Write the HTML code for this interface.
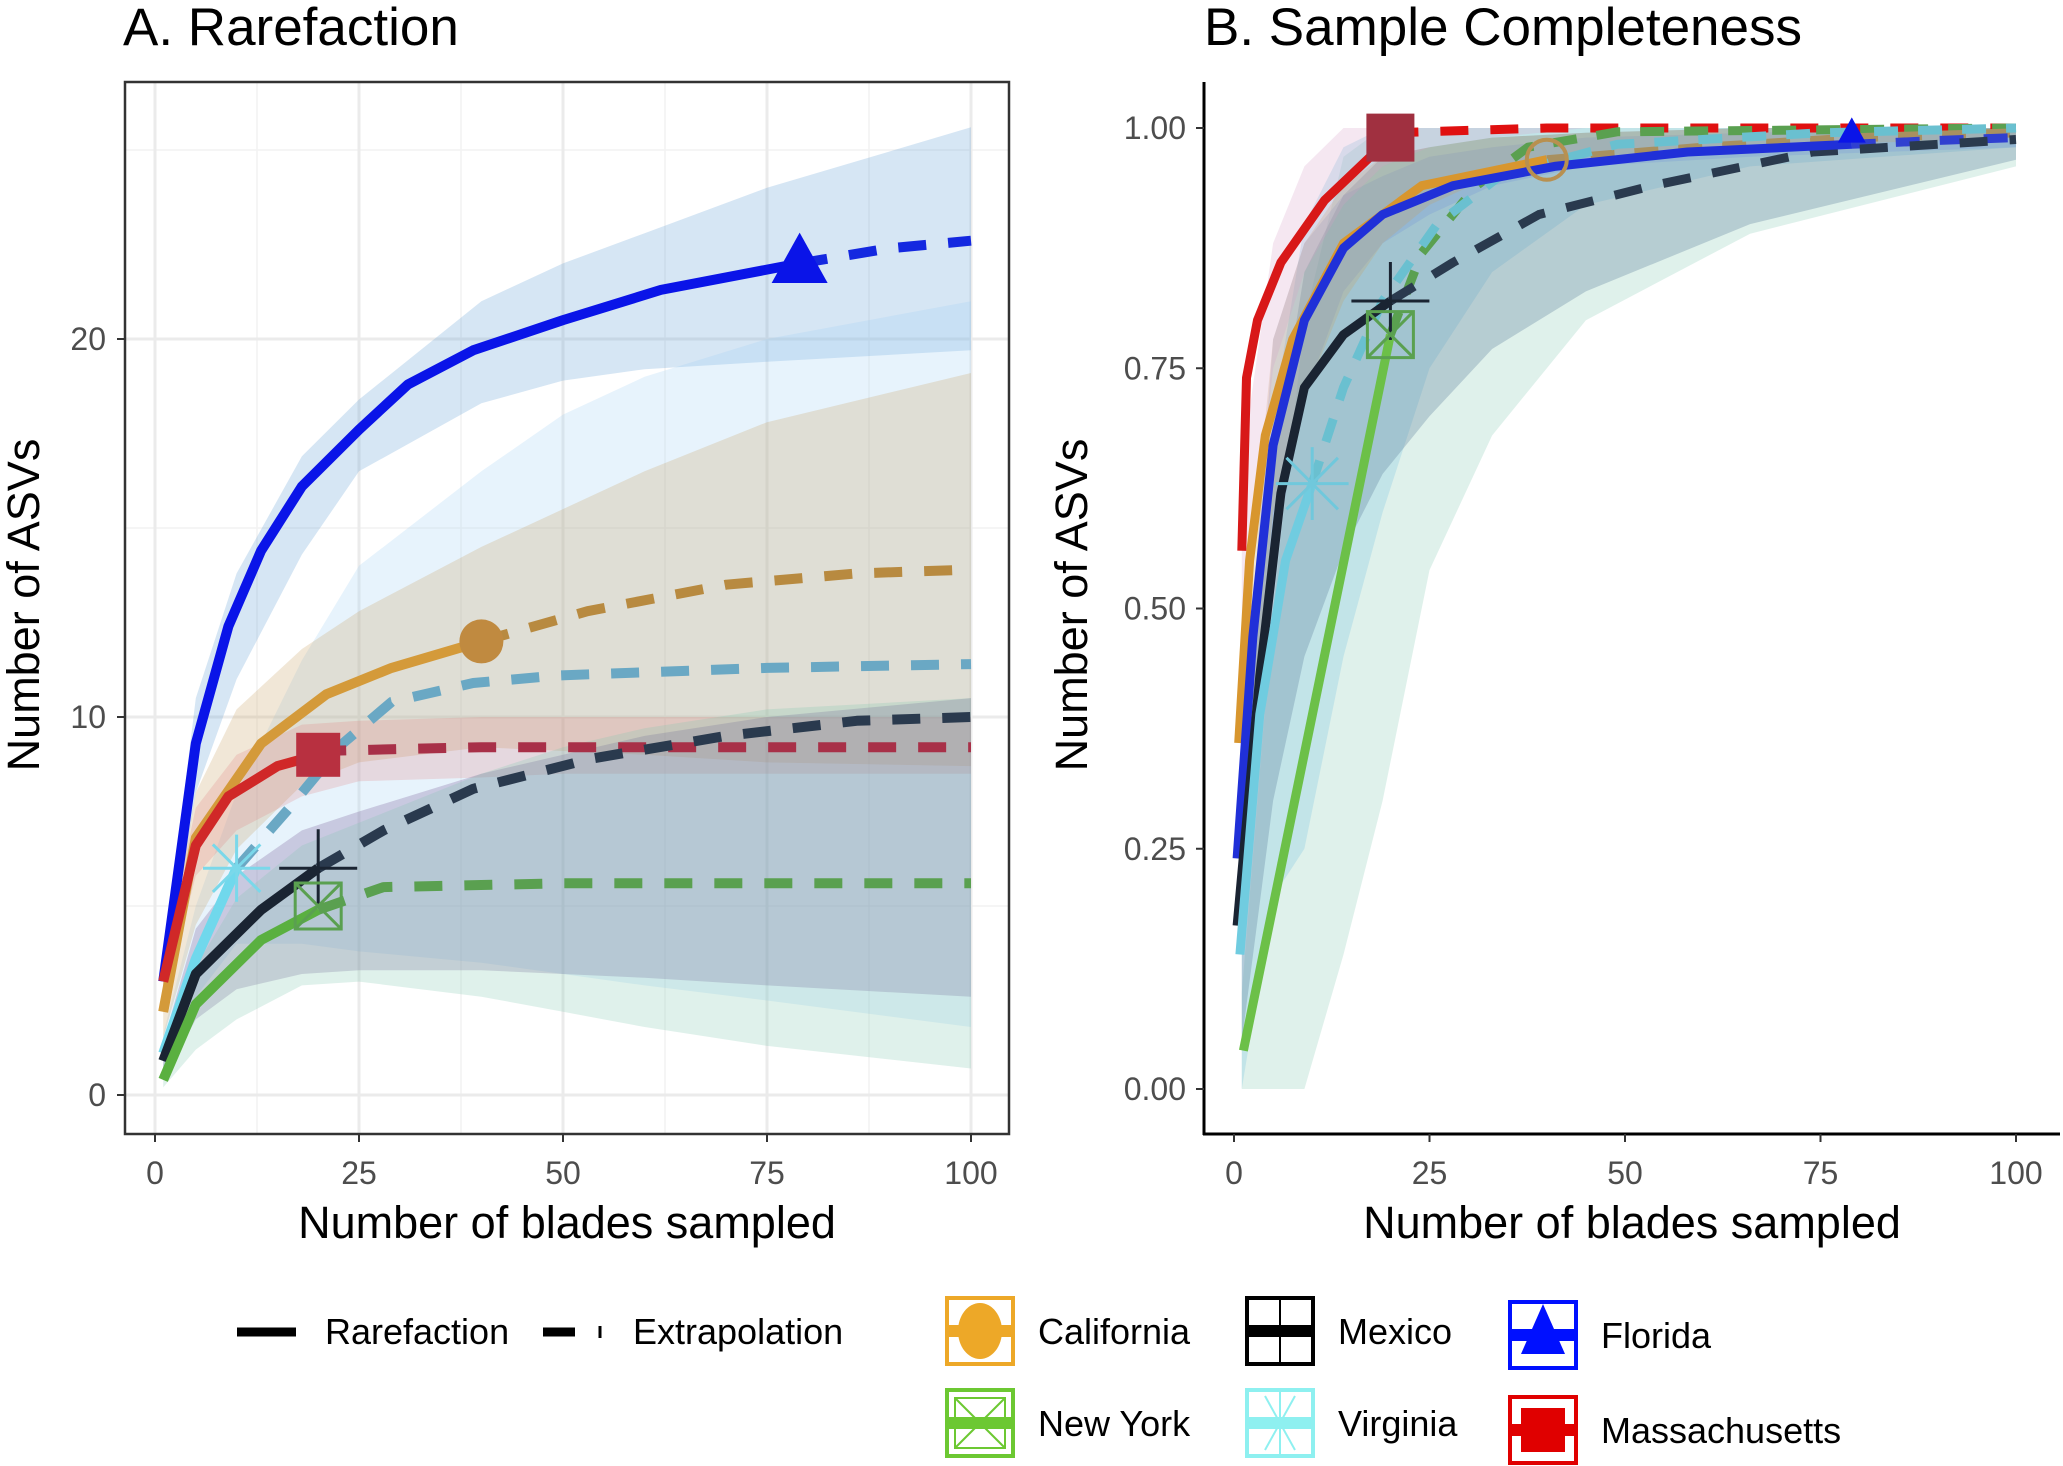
<!DOCTYPE html>
<html><head><meta charset="utf-8"><style>
body{margin:0;background:#fff;}
svg{display:block;font-family:"Liberation Sans",sans-serif;}
</style></head><body>
<svg id="c" width="2063" height="1466" viewBox="0 0 2063 1466"></svg>
<script>
// ---------- Panel A data ----------
const seriesNames=["Florida","California","Massachusetts","Virginia","Mexico","New York"];
const aFlRareX=[1,5,9,13,18,25,31,39,50,62,79], aFlRareY=[3.0,9.3,12.4,14.4,16.1,17.6,18.8,19.7,20.5,21.3,22.0];
const aFlExtX=[79,90,100], aFlExtY=[22.0,22.4,22.6];
const aCaRareX=[1,5,13,21,29,40], aCaRareY=[2.2,6.8,9.3,10.6,11.3,12.0];
const aCaExtX=[40,53,70,86,100], aCaExtY=[12.0,12.8,13.5,13.8,13.9];
const aMaRareX=[1,5,9,15,20], aMaRareY=[3.0,6.6,7.9,8.7,9.0];
const aMaExtX=[20,40,100], aMaExtY=[9.1,9.2,9.2];
const aVaRareX=[1,5,10], aVaRareY=[1.1,3.6,6.0];
const aVaExtX=[10,16.5,23,29,39,49.5,75,100], aVaExtY=[6.0,7.6,9.3,10.4,10.9,11.1,11.3,11.4];
const aMxRareX=[1,5,13,20], aMxRareY=[0.9,3.2,4.9,6.0];
const aMxExtX=[20,28,39,53.5,70,86,100], aMxExtY=[6.0,7.0,8.1,8.9,9.5,9.9,10.0];
const aNyRareX=[1,5,13,20], aNyRareY=[0.4,2.4,4.1,4.9];
const aNyExtX=[20,28,50,100], aNyExtY=[4.9,5.5,5.6,5.6];
// ribbons panel A
const aRibX=[1,5,10,18,25,40,50,60,75,100];
const aFlLo=[2.6,8.0,11.0,14.3,16.5,18.3,18.9,19.2,19.4,19.7];
const aFlHi=[3.4,10.5,13.8,16.9,18.4,21.0,22.0,22.8,24.0,25.6];
const aCaLo=[1.5,4.5,6.5,8.2,8.8,9.2,9.1,9.0,8.8,8.7];
const aCaHi=[3.0,8.0,10.2,11.8,12.8,14.5,15.5,16.5,17.8,19.1];
const aMaLo=[2.4,5.8,7.0,7.9,8.3,8.4,8.5,8.5,8.5,8.5];
const aMaHi=[3.6,7.6,9.0,9.8,9.9,10.0,10.0,10.0,10.0,10.0];
const aVaLo=[0.6,2.6,4.0,4.0,3.8,3.5,3.2,2.9,2.5,1.8];
const aVaHi=[1.6,5.0,8.0,11.5,14.0,16.5,18.0,19.0,20.0,21.0];
const aMxLo=[0.4,2.0,2.8,3.2,3.3,3.3,3.2,3.1,2.9,2.6];
const aMxHi=[1.4,4.4,5.8,7.0,7.5,8.5,9.0,9.5,10.0,10.5];
const aNyLo=[0.2,1.2,2.0,2.9,3.0,2.6,2.2,1.8,1.3,0.7];
const aNyHi=[0.8,3.4,5.2,6.6,7.2,8.5,9.2,9.7,10.2,10.5];
// ---------- Panel B data ----------
const bMaRareX=[1,1.6,3,6,11.6,20], bMaRareY=[0.56,0.74,0.80,0.86,0.925,0.99];
const bMaExtX=[20,40,100], bMaExtY=[0.995,1.0,1.0];
const bCaRareX=[0.6,2,4,7.5,14,24,40], bCaRareY=[0.36,0.55,0.68,0.78,0.88,0.94,0.967];
const bCaExtX=[40,60,80,100], bCaExtY=[0.967,0.98,0.99,0.995];
const bFlRareX=[0.4,2.4,5,9,14,19,28,41,58,79], bFlRareY=[0.24,0.47,0.67,0.80,0.875,0.91,0.94,0.96,0.975,0.983];
const bFlExtX=[79,90,100], bFlExtY=[0.983,0.987,0.99];
const bMxRareX=[0.4,3.3,6,9,14,20], bMxRareY=[0.17,0.43,0.62,0.73,0.785,0.82];
const bMxExtX=[20,28,39,53.5,74,100], bMxExtY=[0.82,0.86,0.91,0.94,0.975,0.988];
const bVaRareX=[0.75,3.3,6.6,10], bVaRareY=[0.14,0.39,0.55,0.63];
const bVaExtX=[10,14,19,26,34,49,75,100], bVaExtY=[0.63,0.73,0.82,0.90,0.95,0.983,0.995,1.0];
const bNyRareX=[1.2,20], bNyRareY=[0.04,0.785];
const bNyExtX=[20,24,31,37.6,49,100], bNyExtY=[0.785,0.87,0.94,0.98,0.996,1.0];
const bRibX=[1,5,9,14,19,25,33,45,66,100];
const bNyLo=[0,0,0,0.14,0.30,0.54,0.68,0.80,0.89,0.96];
const bNyHi=[0.1,0.5,0.8,0.97,1.0,1.0,1.0,1.0,1.0,1.0];
const bMxLo=[0.05,0.3,0.45,0.56,0.64,0.70,0.77,0.83,0.9,0.967];
const bMxHi=[0.3,0.65,0.85,0.93,0.97,0.98,0.99,0.995,1.0,1.0];
const bVaLo=[0,0.2,0.25,0.45,0.6,0.75,0.85,0.92,0.96,0.98];
const bVaHi=[0.3,0.7,0.9,0.98,1.0,1.0,1.0,1.0,1.0,1.0];
const bMaLo=[0.45,0.75,0.85,0.92,0.96,0.98,0.99,1.0,1.0,1.0];
const bMaHi=[0.65,0.88,0.96,1.0,1.0,1.0,1.0,1.0,1.0,1.0];
const bCaLo=[0.25,0.6,0.72,0.82,0.88,0.92,0.95,0.97,0.98,0.99];
const bCaHi=[0.45,0.78,0.88,0.94,0.97,0.98,0.99,0.995,1.0,1.0];
const bFlLo=[0.15,0.55,0.72,0.83,0.88,0.91,0.94,0.96,0.97,0.98];
const bFlHi=[0.35,0.78,0.88,0.93,0.95,0.97,0.98,0.99,0.995,1.0];
const aXTicks=[0,25,50,75,100], aYTicks=[0,10,20];
const bXTicks=[0,25,50,75,100], bYTicks=[0,0.25,0.5,0.75,1.0];
const bYLabels=["0.00","0.25","0.50","0.75","1.00"];

const NS="http://www.w3.org/2000/svg", svg=document.getElementById('c');
function mk(tag,attrs,parent,text){const e=document.createElementNS(NS,tag);for(const k in attrs)e.setAttribute(k,attrs[k]);if(text!==undefined)e.textContent=text;(parent||svg).appendChild(e);return e;}
const xA=v=>155+v*8.16, yA=v=>1095-v*37.8;
const xB=v=>1234+v*7.82, yB=v=>1089-v*961;
function pts(xs,ys,fx,fy){return xs.map((x,i)=>fx(x).toFixed(1)+','+fy(ys[i]).toFixed(1)).join(' ');}
function ribbon(g,xs,lo,hi,fx,fy,col,op,name){
  const p=mk('polygon',{points:pts(xs,hi,fx,fy)+' '+pts(xs.slice().reverse(),lo.slice().reverse(),fx,fy),fill:col,'fill-opacity':op},g);
  
  
}
function line(g,xs,ys,fx,fy,col,w,dash,name){
  const a={points:pts(xs,ys,fx,fy),fill:'none',stroke:col,'stroke-width':w,'stroke-linejoin':'round'};
  if(dash)a['stroke-dasharray']=dash;
  const p=mk('polyline',a,g);
  
  
}
function marker(g,type,cx,cy,col,s,name){
  const m=mk('g',{},g);
  
  
  if(type==='tri')mk('polygon',{points:`${cx},${cy-s*1.1} ${cx-s},${cy+s*0.7} ${cx+s},${cy+s*0.7}`,fill:col},m);
  if(type==='circ')mk('circle',{cx:cx,cy:cy,r:s,fill:col},m);
  if(type==='sq')mk('rect',{x:cx-s,y:cy-s,width:2*s,height:2*s,fill:col},m);
  if(type==='plus'){mk('line',{x1:cx-s*1.5,y1:cy,x2:cx+s*1.5,y2:cy,stroke:col,'stroke-width':3},m);mk('line',{x1:cx,y1:cy-s*1.5,x2:cx,y2:cy+s*1.5,stroke:col,'stroke-width':3},m);}
  if(type==='ast'){for(const a of [0,45,90,135]){const r=a*Math.PI/180;mk('line',{x1:cx-Math.cos(r)*s*1.4,y1:cy-Math.sin(r)*s*1.4,x2:cx+Math.cos(r)*s*1.4,y2:cy+Math.sin(r)*s*1.4,stroke:col,'stroke-width':3},m);}}
  if(type==='boxx'){mk('rect',{x:cx-s,y:cy-s,width:2*s,height:2*s,fill:'none',stroke:col,'stroke-width':3},m);mk('line',{x1:cx-s,y1:cy-s,x2:cx+s,y2:cy+s,stroke:col,'stroke-width':3},m);mk('line',{x1:cx+s,y1:cy-s,x2:cx-s,y2:cy+s,stroke:col,'stroke-width':3},m);}
}
const TXT='#4d4d4d';
// ---------- Panel A ----------
const gA=mk('g',{});
mk('text',{x:123,y:45,'font-size':53,fill:'#000'},gA,'A. Rarefaction');
for(let v=12.5;v<100;v+=25)mk('line',{x1:xA(v),x2:xA(v),y1:82,y2:1134,stroke:'#f2f2f2','stroke-width':1.5},gA);
for(const v of [5,15,25])mk('line',{x1:125,x2:1009,y1:yA(v),y2:yA(v),stroke:'#f2f2f2','stroke-width':1.5},gA);
aXTicks.forEach(v=>{mk('line',{x1:xA(v),x2:xA(v),y1:82,y2:1134,stroke:'#ebebeb','stroke-width':3},gA);
  mk('line',{x1:xA(v),x2:xA(v),y1:1134,y2:1142,stroke:'#333','stroke-width':2},gA);
  const t=mk('text',{x:xA(v),y:1184,'font-size':32,fill:TXT,'text-anchor':'middle'},gA,v);});
aYTicks.forEach(v=>{mk('line',{x1:125,x2:1009,y1:yA(v),y2:yA(v),stroke:'#ebebeb','stroke-width':3},gA);
  mk('line',{x1:117,x2:125,y1:yA(v),y2:yA(v),stroke:'#333','stroke-width':2},gA);
  const t=mk('text',{x:106,y:yA(v)+11,'font-size':32,fill:TXT,'text-anchor':'end'},gA,v);});
ribbon(gA,aRibX,aFlLo,aFlHi,xA,yA,'#5b9bd5',0.25,'ribbon-florida');
ribbon(gA,aRibX,aVaLo,aVaHi,xA,yA,'#9fd0f5',0.25,'ribbon-virginia');
ribbon(gA,aRibX,aCaLo,aCaHi,xA,yA,'#c9a060',0.25,'ribbon-california');
ribbon(gA,aRibX,aMaLo,aMaHi,xA,yA,'#e07070',0.2,'ribbon-massachusetts');
ribbon(gA,aRibX,aMxLo,aMxHi,xA,yA,'#6a4a8a',0.25,'ribbon-mexico');
ribbon(gA,aRibX,aNyLo,aNyHi,xA,yA,'#80c8b0',0.25,'ribbon-new-york');
line(gA,aFlRareX,aFlRareY,xA,yA,'#0a14e8',10,null,'line-florida-rare');
line(gA,aFlExtX,aFlExtY,xA,yA,'#1428e0',10,'28 22','line-florida-extrap');
line(gA,aCaExtX,aCaExtY,xA,yA,'#b88a40',10,'28 22','line-california-extrap');
line(gA,aCaRareX,aCaRareY,xA,yA,'#d49a3a',10,null,'line-california-rare');
line(gA,aVaExtX,aVaExtY,xA,yA,'#6aa8c4',10,'28 22','line-virginia-extrap');
line(gA,aMaExtX,aMaExtY,xA,yA,'#a83048',10,'28 22','line-massachusetts-extrap');
line(gA,aMaRareX,aMaRareY,xA,yA,'#d02828',10,null,'line-massachusetts-rare');
line(gA,aVaRareX,aVaRareY,xA,yA,'#70d8ec',10,null,'line-virginia-rare');
line(gA,aMxExtX,aMxExtY,xA,yA,'#2a3a4e',10,'28 22','line-mexico-extrap');
line(gA,aMxRareX,aMxRareY,xA,yA,'#1a2432',10,null,'line-mexico-rare');
line(gA,aNyExtX,aNyExtY,xA,yA,'#5aa050',10,'28 22','line-new-york-extrap');
line(gA,aNyRareX,aNyRareY,xA,yA,'#5ab040',10,null,'line-new-york-rare');
marker(gA,'tri',xA(79),yA(22),'#0a14e8',28,'marker-florida');
marker(gA,'circ',xA(40),yA(12),'#c08a40',22,'marker-california');
marker(gA,'sq',xA(20),yA(9),'#b83040',22,'marker-massachusetts');
marker(gA,'ast',xA(10),yA(6),'#7ad8ea',24,'marker-virginia');
marker(gA,'plus',xA(20),yA(6),'#1a2432',26,'marker-mexico');
marker(gA,'boxx',xA(20),yA(5),'#5aa050',23,'marker-new-york');
mk('rect',{x:125,y:82,width:884,height:1052,fill:'none',stroke:'#333','stroke-width':2.5},gA);
mk('text',{x:567,y:1238,'font-size':45,fill:'#000','text-anchor':'middle'},gA,'Number of blades sampled');
mk('text',{x:0,y:0,'font-size':45,fill:'#000','text-anchor':'middle',transform:'translate(39,605) rotate(-90)'},gA,'Number of ASVs');

// ---------- Panel B ----------
const gB=mk('g',{});
mk('text',{x:1204,y:45,'font-size':53,fill:'#000'},gB,'B. Sample Completeness');
ribbon(gB,bRibX,bNyLo,bNyHi,xB,yB,'#80c8b0',0.25,'ribbon-new-york-b');
ribbon(gB,bRibX,bVaLo,bVaHi,xB,yB,'#80c8e0',0.3,'ribbon-virginia-b');
ribbon(gB,bRibX,bMxLo,bMxHi,xB,yB,'#5a7a98',0.3,'ribbon-mexico-b');
ribbon(gB,bRibX,bFlLo,bFlHi,xB,yB,'#7090d8',0.25,'ribbon-florida-b');
ribbon(gB,bRibX,bCaLo,bCaHi,xB,yB,'#c9a060',0.25,'ribbon-california-b');
ribbon(gB,bRibX,bMaLo,bMaHi,xB,yB,'#d8a0c8',0.25,'ribbon-massachusetts-b');
line(gB,bMaExtX,bMaExtY,xB,yB,'#e01010',9,'28 22','line-massachusetts-extrap-b');
line(gB,bNyExtX,bNyExtY,xB,yB,'#5aa050',9,'24 20','line-new-york-extrap-b');
line(gB,bCaExtX,bCaExtY,xB,yB,'#a89060',9,'24 20','line-california-extrap-b');
line(gB,bVaExtX,bVaExtY,xB,yB,'#6ac0d0',9,'24 20','line-virginia-extrap-b');
line(gB,bFlExtX,bFlExtY,xB,yB,'#3040d0',9,'24 20','line-florida-extrap-b');
line(gB,bMxExtX,bMxExtY,xB,yB,'#2a3a4e',9,'28 22','line-mexico-extrap-b');
line(gB,bCaRareX,bCaRareY,xB,yB,'#d8962e',9,null,'line-california-rare-b');
line(gB,bFlRareX,bFlRareY,xB,yB,'#2030d8',9,null,'line-florida-rare-b');
line(gB,bMaRareX,bMaRareY,xB,yB,'#d81818',9,null,'line-massachusetts-rare-b');
line(gB,bMxRareX,bMxRareY,xB,yB,'#1a2432',9,null,'line-mexico-rare-b');
line(gB,bVaRareX,bVaRareY,xB,yB,'#70cce0',9,null,'line-virginia-rare-b');
line(gB,bNyRareX,bNyRareY,xB,yB,'#6cc048',9,null,'line-new-york-rare-b');
marker(gB,'tri',xB(79),yB(0.995),'#0a14e8',14,'marker-florida-b');
mk('circle',{cx:xB(40),cy:yB(0.967),r:20,fill:'none',stroke:'#b89050','stroke-width':4},gB);
marker(gB,'sq',xB(20),yB(0.99),'#a03040',24,'marker-massachusetts-b');
marker(gB,'ast',xB(10),yB(0.63),'#70c8dc',26,'marker-virginia-b');
marker(gB,'plus',xB(20),yB(0.82),'#1a2432',26,'marker-mexico-b');
marker(gB,'boxx',xB(20),yB(0.785),'#5aa050',23,'marker-new-york-b');
mk('line',{x1:1204,x2:1204,y1:82,y2:1135,stroke:'#000','stroke-width':3},gB);
mk('line',{x1:1203,x2:2060,y1:1134,y2:1134,stroke:'#000','stroke-width':3},gB);
bXTicks.forEach(v=>{mk('line',{x1:xB(v),x2:xB(v),y1:1134,y2:1142,stroke:'#333','stroke-width':2},gB);
  const t=mk('text',{x:xB(v),y:1184,'font-size':32,fill:TXT,'text-anchor':'middle'},gB,v);});
bYTicks.forEach((v,i)=>{mk('line',{x1:1196,x2:1204,y1:yB(v),y2:yB(v),stroke:'#333','stroke-width':2},gB);
  const t=mk('text',{x:1186,y:yB(v)+11,'font-size':32,fill:TXT,'text-anchor':'end'},gB,bYLabels[i]);});
mk('text',{x:1632,y:1238,'font-size':45,fill:'#000','text-anchor':'middle'},gB,'Number of blades sampled');
mk('text',{x:0,y:0,'font-size':45,fill:'#000','text-anchor':'middle',transform:'translate(1087,605) rotate(-90)'},gB,'Number of ASVs');

// ---------- Legend ----------
const gL=mk('g',{});
mk('line',{x1:237,x2:296,y1:1332,y2:1332,stroke:'#000','stroke-width':9},gL);
mk('text',{x:325,y:1344,'font-size':36},gL,'Rarefaction');
mk('line',{x1:543,x2:575,y1:1332,y2:1332,stroke:'#000','stroke-width':9},gL);
mk('line',{x1:600,x2:600,y1:1326,y2:1338,stroke:'#000','stroke-width':3},gL);
mk('text',{x:633,y:1344,'font-size':36},gL,'Extrapolation');
const leg=[["California",945,1296,'#eda828','circ'],["Mexico",1245,1296,'#000','plus'],["Florida",1508,1300,'#0010ff','tri'],
           ["New York",945,1388,'#6cc832','boxx'],["Virginia",1245,1388,'#8ef0f0','ast'],["Massachusetts",1508,1395,'#e00000','sq']];
leg.forEach(([n,x,y,c,t])=>{
  const g=mk('g',{},gL);
  
  
  mk('rect',{x:x+2,y:y+2,width:66,height:66,fill:'#fff',stroke:c,'stroke-width':4},g);
  const cx=x+35,cy=y+35;
  if(t==='circ')mk('ellipse',{cx:cx,cy:cy,rx:22,ry:28,fill:c},g);
  if(t==='tri')mk('polygon',{points:`${cx},${y+4} ${cx-22},${y+54} ${cx+22},${y+54}`,fill:c},g);
  if(t==='sq')mk('rect',{x:cx-22,y:cy-22,width:44,height:44,fill:c},g);
  if(t==='plus')mk('line',{x1:cx,x2:cx,y1:y+4,y2:y+66,stroke:c,'stroke-width':2},g);
  if(t==='ast'){mk('line',{x1:cx,x2:cx,y1:y+4,y2:y+66,stroke:c,'stroke-width':2},g);mk('line',{x1:cx-15,x2:cx+15,y1:y+8,y2:y+62,stroke:c,'stroke-width':2},g);mk('line',{x1:cx+15,x2:cx-15,y1:y+8,y2:y+62,stroke:c,'stroke-width':2},g);}
  if(t==='boxx'){mk('rect',{x:x+10,y:y+10,width:50,height:50,fill:'none',stroke:c,'stroke-width':2},g);mk('line',{x1:x+10,y1:y+10,x2:x+60,y2:y+60,stroke:c,'stroke-width':2},g);mk('line',{x1:x+60,y1:y+10,x2:x+10,y2:y+60,stroke:c,'stroke-width':2},g);}
  mk('rect',{x:x+4,y:cy-6,width:62,height:12,fill:c},g);
  const tx=mk('text',{x:x+93,y:cy+13,'font-size':36},g,n);
  
});
</script>
</body></html>
